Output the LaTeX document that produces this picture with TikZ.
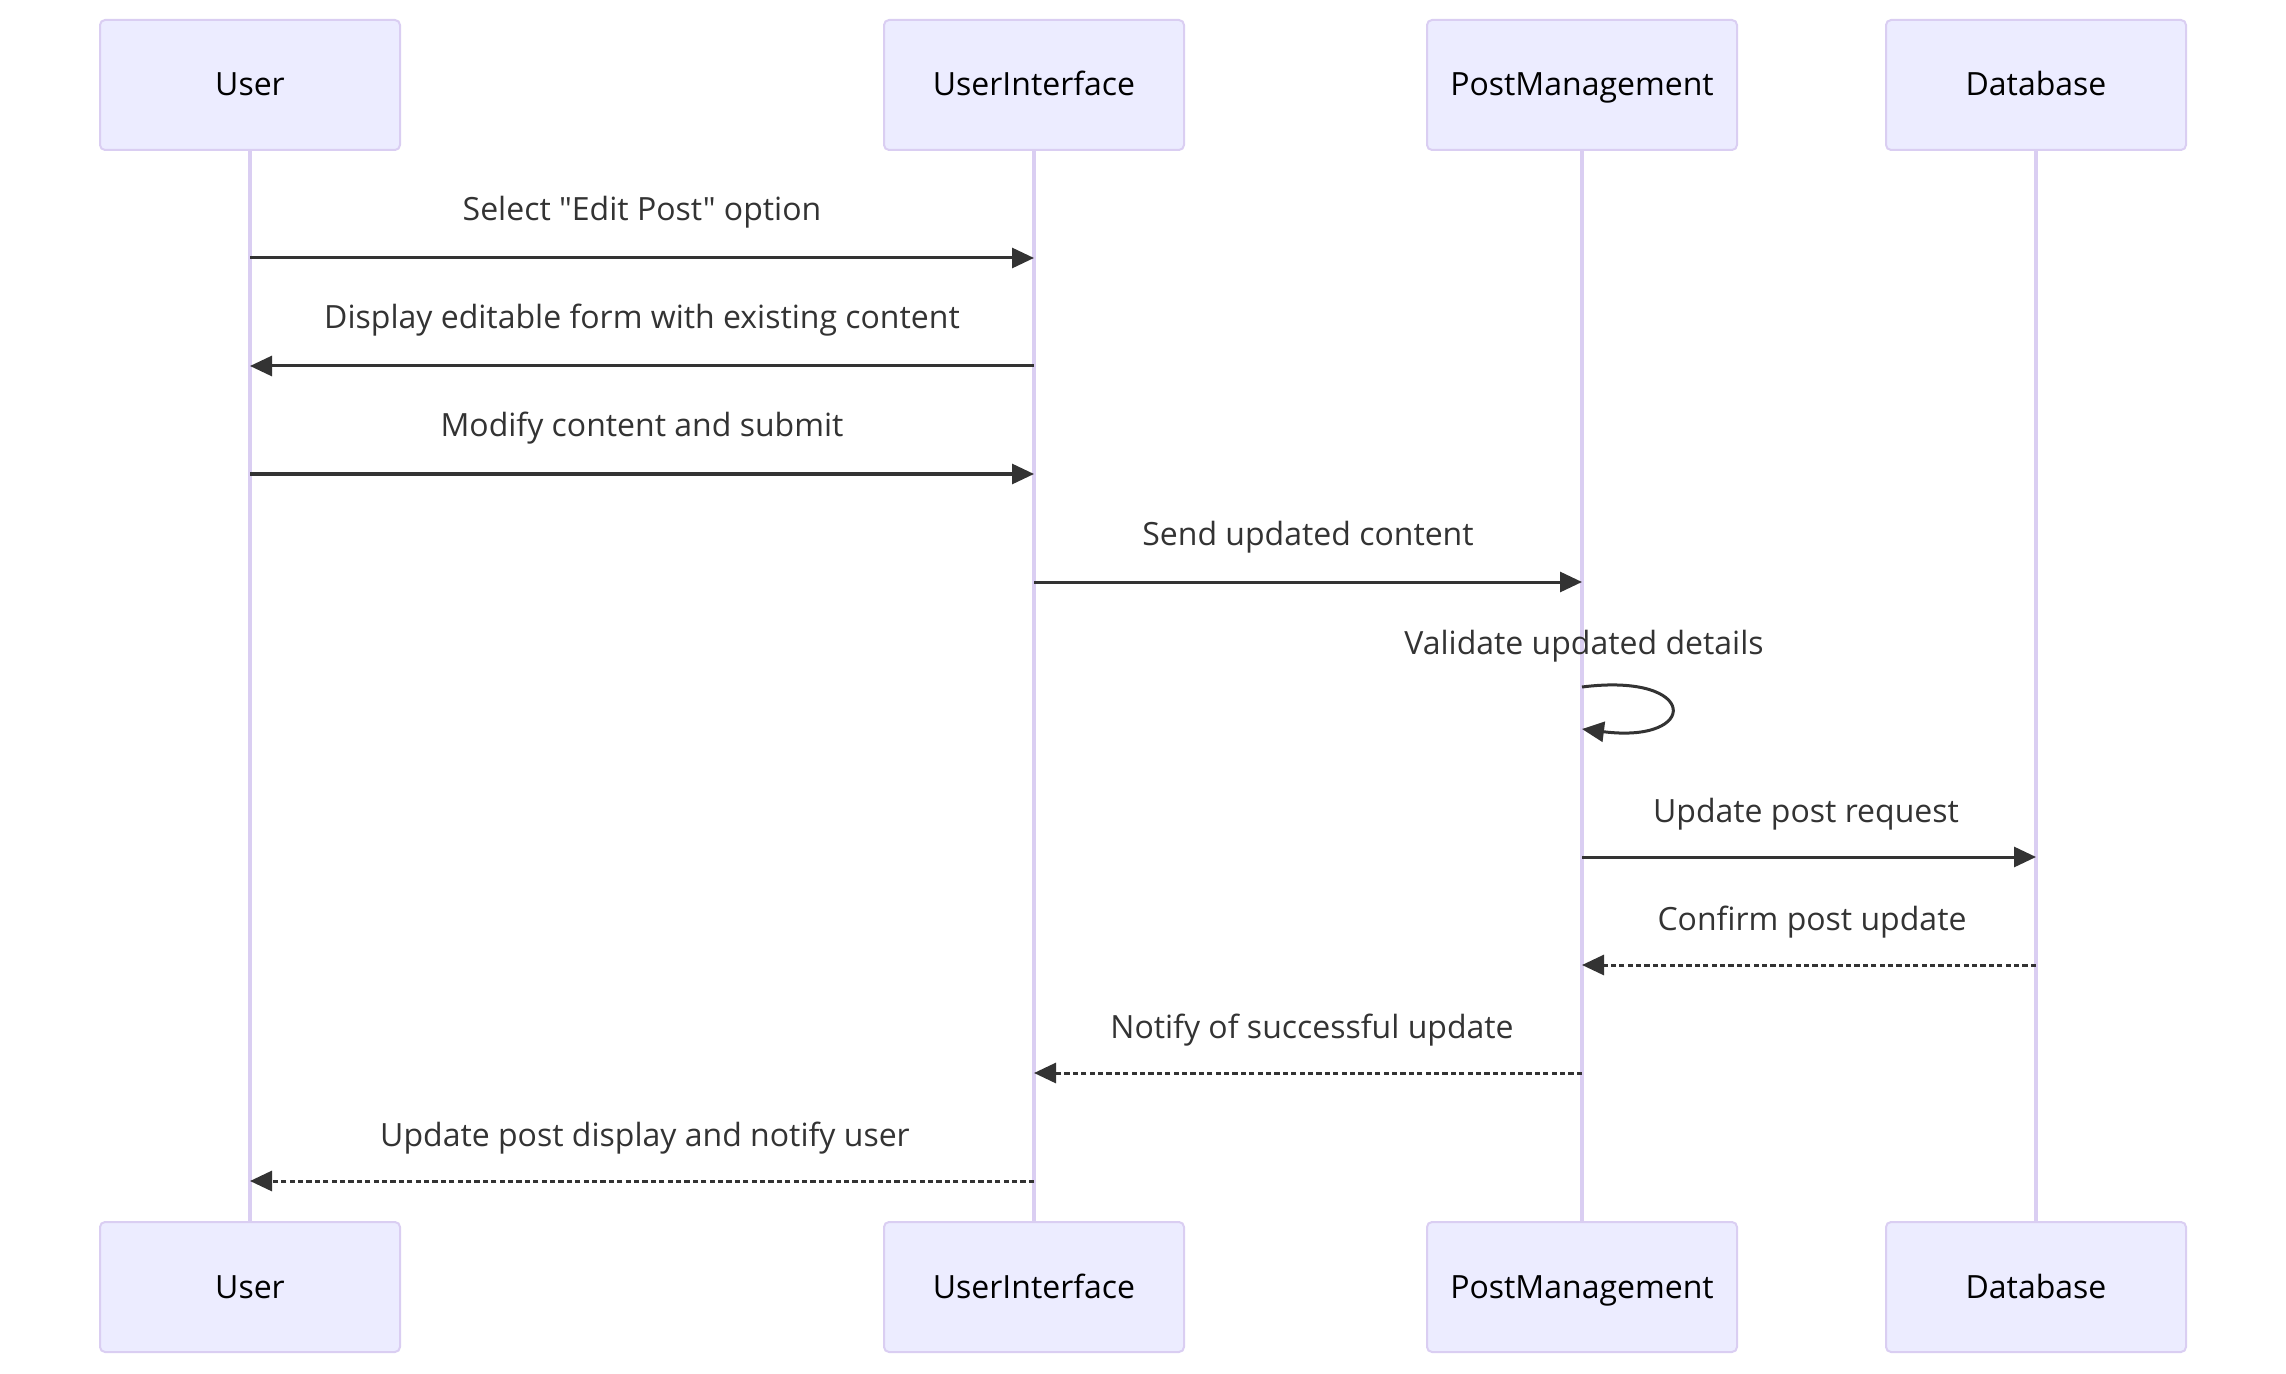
\documentclass[tikz,border=0pt]{standalone}
\usepackage{fontspec}
\newfontfamily\seqfont{Open Sans}
\usetikzlibrary{arrows.meta}
\definecolor{actfill}{HTML}{ECECFF}
\definecolor{actline}{HTML}{DACEF2}
\definecolor{sig}{HTML}{333333}

\begin{document}
\begin{tikzpicture}[x=0.5pt,y=-0.5pt,
	actor/.style={draw=actline,fill=actfill,line width=1pt,rounded corners=2.5pt,minimum width=150pt,minimum height=65pt,font=\seqfont\fontsize{16}{19}\selectfont,text=black,text height=12.5pt,text depth=1.5pt},
	wide/.style={minimum width=155pt},
	life/.style={actline,line width=1.8pt},
	msg/.style={sig,line width=1.5pt,-{Triangle[length=11pt,width=10pt]}},
	reply/.style={msg,dash pattern=on 2.6pt off 1.6pt},
	lbl/.style={text=sig,font=\seqfont\fontsize{16}{19}\selectfont,text height=12.5pt,text depth=1.5pt}]
	\useasboundingbox (0,0) rectangle (2286,1374);
	\node[actor](usrT) at(250,85){User};
	\node[actor](uiT) at(1034,85){UserInterface};
	\node[actor,wide](pmT) at(1582,85){PostManagement};
	\node[actor](dbT) at(2036,85){Database};
	\node[actor](usrB) at(250,1287){User};
	\node[actor](uiB) at(1034,1287){UserInterface};
	\node[actor,wide](pmB) at(1582,1287){PostManagement};
	\node[actor](dbB) at(2036,1287){Database};
	\draw[life](usrT)--(usrB);
	\draw[life](uiT)--(uiB);
	\draw[life](pmT)--(pmB);
	\draw[life](dbT)--(dbB);
	\node[lbl](t1) at(642,210){Select "Edit Post" option};
	\draw[msg](usrT|-0,258)--(uiT|-0,258);
	\node[lbl](t2) at(642,318){Display editable form with existing content};
	\draw[msg](uiT|-0,366)--(usrT|-0,366);
	\node[lbl](t3) at(642,426){Modify content and submit};
	\draw[msg](usrT|-0,474)--(uiT|-0,474);
	\node[lbl](t4) at(1308,534){Send updated content};
	\draw[msg](uiT|-0,582)--(pmT|-0,582);
	\node[lbl](t5) at(1584,643){Validate updated details};
	\coordinate(lp) at(1584,687);
	\draw[msg](pmT|-lp)..controls(1700,672)and(1700,744)..(1582,729);
	\node[lbl](t6) at(1806,811){Update post request};
	\draw[msg](pmT|-0,857)--(dbT|-0,857);
	\node[lbl](t7) at(1812,919){Confirm post update};
	\draw[reply](dbT|-0,965)--(pmT|-0,965);
	\node[lbl](t8) at(1312,1027){Notify of successful update};
	\draw[reply](pmT|-0,1073)--(uiT|-0,1073);
	\node[lbl](t9) at(645,1135){Update post display and notify user};
	\draw[reply](uiT|-0,1181)--(usrT|-0,1181);
\end{tikzpicture}
\end{document}
